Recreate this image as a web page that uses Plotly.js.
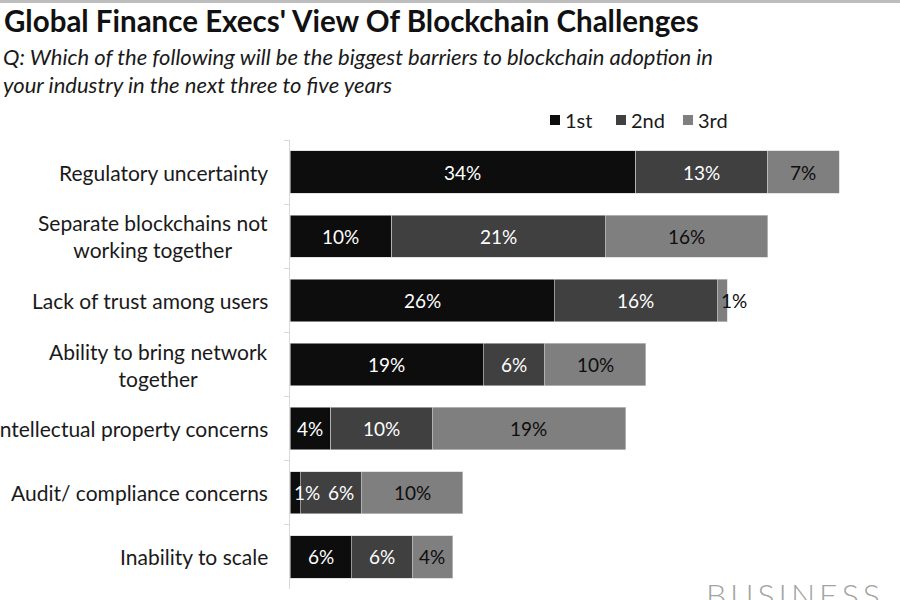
<!DOCTYPE html>
<html>
<head>
<meta charset="utf-8">
<script src="https://cdn.plot.ly/plotly-3.0.1.min.js"></script>
<style>
  html, body { margin: 0; padding: 0; background: #ffffff; }
  #chart { width: 900px; height: 600px; }
</style>
</head>
<body>
<div id="chart"></div>
<script>
// ---- data ----
var categories = [
  "Regulatory uncertainty",
  "Separate blockchains not<br>working together",
  "Lack of trust among users",
  "Ability to bring network<br>together",
  "Intellectual property concerns",
  "Audit/ compliance concerns",
  "Inability to scale"
];
var first  = [34, 10, 26, 19, 4, 1, 6];
var second = [13, 21, 16, 6, 10, 6, 6];
var third  = [7, 16, 1, 10, 19, 10, 4];
var seriesNames = ["1st", "2nd", "3rd"];
var subtitleLines = [
  "Q: Which of the following will be the biggest barriers to blockchain adoption in",
  "your industry in the next three to five years"
];

var FONT = "Lato, Calibri, 'Open Sans', sans-serif";
var colors = ["#0d0d0d", "#404040", "#7f7f7f"];
var textColors = ["#ffffff", "#ffffff", "#0d0d0d"];
var values = [first, second, third];

// pixel -> paper helpers (plot area: x 290..900, y 140..589)
function px(x) { return (x - 290) / 610; }
function py(y) { return 1 + (140 - y) / 449; }

var traces = values.map(function (vals, i) {
  return {
    type: "bar",
    orientation: "h",
    name: seriesNames[i],
    y: categories,
    x: vals,
    marker: { color: colors[i], line: { color: "#d0d0d0", width: 0.6 } },
    hoverinfo: "skip"
  };
});

var annotations = [];
var shapes = [];

// value labels, drawn above all bars (position from the data through the x scale)
values.forEach(function (vals, i) {
  vals.forEach(function (v, k) {
    var base = 0;
    for (var j = 0; j < i; j++) base += values[j][k];
    var small = v < 2;
    var prevSmall = i > 0 && values[i - 1][k] < 2;
    annotations.push({
      xref: "x", yref: "y",
      x: small ? base : base + v / 2,
      y: categories[k],
      xanchor: small ? "left" : "center",
      yanchor: "middle",
      xshift: small ? 2 : (prevSmall ? 10 : 0),
      showarrow: false,
      text: v + "%",
      font: { family: FONT, size: 19, color: textColors[i] }
    });
  });
});

// category labels (centered multi-line like the original)
categories.forEach(function (c) {
  annotations.push({
    xref: "paper", yref: "y",
    x: 0, y: c,
    xanchor: "right", yanchor: "middle",
    xshift: -20,
    align: "center",
    showarrow: false,
    text: c,
    font: { family: FONT, size: 21, color: "#1a1a1a" }
  });
});

// legend (squares + labels)
var legendX = [550, 616, 683];
seriesNames.forEach(function (name, i) {
  shapes.push({
    type: "rect", xref: "paper", yref: "paper",
    x0: px(legendX[i]), x1: px(legendX[i] + 10),
    y0: py(125), y1: py(115),
    fillcolor: colors[i], line: { width: 0 }
  });
  annotations.push({
    xref: "paper", yref: "paper",
    x: px(legendX[i] + 13), y: py(120),
    xanchor: "left", yanchor: "middle",
    showarrow: false,
    text: name,
    font: { family: FONT, size: 20, color: "#1a1a1a" }
  });
});

// subtitle (two lines)
var subY = [57, 84];
subtitleLines.forEach(function (line, n) {
  annotations.push({
    xref: "paper", yref: "paper",
    x: px(0), xshift: 1, y: py(subY[n]),
    xanchor: "left", yanchor: "middle",
    align: "left",
    showarrow: false,
    text: "<i>" + line + "</i>",
    font: { family: FONT, size: 22, color: "#1a1a1a" }
  });
});

// watermark
annotations.push({
  xref: "paper", yref: "paper",
  x: px(704), y: py(573),
  xanchor: "left", yanchor: "top",
  showarrow: false,
  text: "B\u2009U\u2009S\u2009I\u2009N\u2009E\u2009S\u2009S",
  font: { family: FONT, size: 32, color: "#a3a3a3", weight: 300 }
});

// thin grey rule at the very top
shapes.push({
  type: "rect", xref: "paper", yref: "paper",
  x0: px(0), x1: 1, y0: py(3), y1: py(0),
  fillcolor: "#bdbdbd", line: { width: 0 }
});

var layout = {
  width: 900, height: 600,
  margin: { l: 290, r: 0, t: 140, b: 11, pad: 0 },
  paper_bgcolor: "#ffffff",
  plot_bgcolor: "#ffffff",
  barmode: "stack",
  bargap: 0.34,
  showlegend: false,
  title: {
    text: "<b>Global Finance Execs' View Of Blockchain Challenges</b>",
    x: 4 / 900, xanchor: "left",
    y: 1 - 22 / 600, yanchor: "middle",
    xref: "container", yref: "container",
    font: { family: FONT, size: 29.5, color: "#111111" }
  },
  xaxis: {
    range: [0, 60],
    visible: false,
    fixedrange: true
  },
  yaxis: {
    type: "category",
    categoryarray: categories,
    autorange: "reversed",
    showticklabels: false,
    showgrid: false,
    zeroline: false,
    showline: true,
    linecolor: "#d9d9d9",
    linewidth: 1,
    ticks: "outside",
    tickson: "boundaries",
    ticklen: 5,
    tickcolor: "#d9d9d9",
    fixedrange: true
  },
  shapes: shapes,
  annotations: annotations
};

Plotly.newPlot("chart", traces, layout, { displayModeBar: false, staticPlot: true });
</script>
</body>
</html>
